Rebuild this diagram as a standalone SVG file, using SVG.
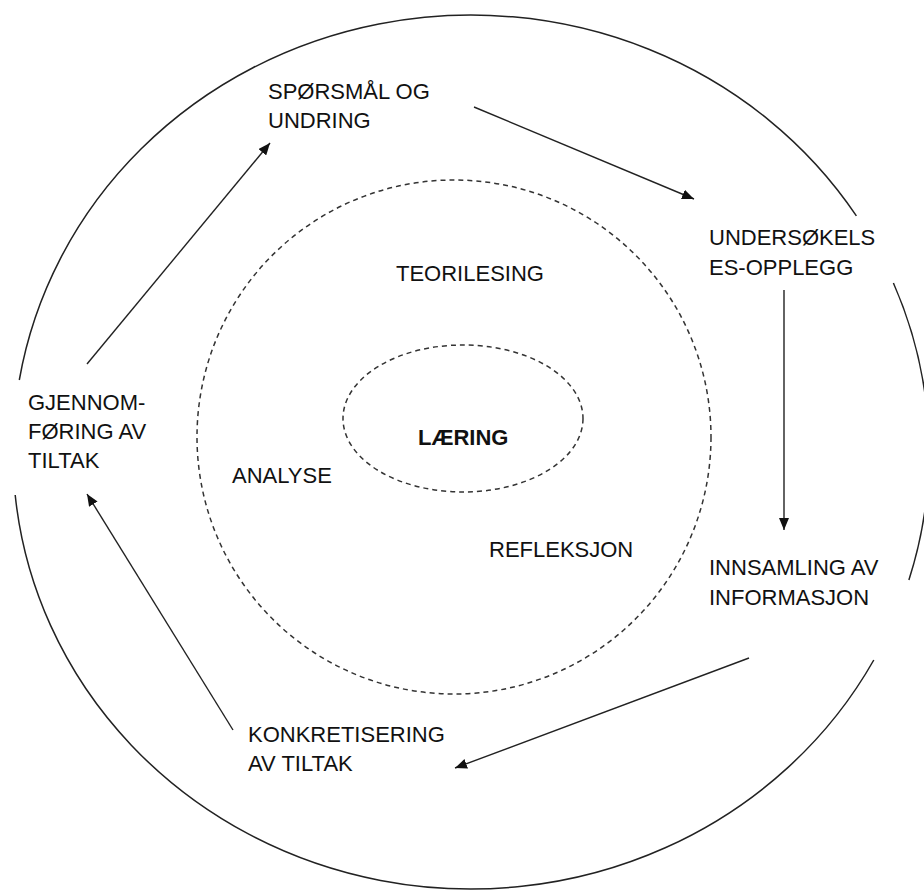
<svg xmlns="http://www.w3.org/2000/svg" width="924" height="890" viewBox="0 0 924 890">
<style>
.t{font-family:"Liberation Sans",Arial,sans-serif;font-size:22px;fill:#111}
.b{font-weight:bold}
.outer{fill:none;stroke:#222;stroke-width:1.5}
.dash{fill:none;stroke:#333;stroke-width:1.5;stroke-dasharray:5 4}
.conn{fill:none;stroke:#222;stroke-width:1.4;marker-end:url(#ah)}
</style>
<defs>
<marker id="ah" viewBox="0 0 12 10" refX="12" refY="5" markerWidth="12" markerHeight="10" markerUnits="userSpaceOnUse" orient="auto">
<path d="M0,0 L12,5 L0,10 z" fill="#111"/>
</marker>
</defs>
<rect width="924" height="890" fill="#fff"/>
<g id="outer-ring">
<path class="outer" d="M893.4 283 A458 437 0 0 1 908.9 580"/>
<path class="outer" d="M873.8 660 A458 437 0 0 1 15.2 495"/>
<path class="outer" d="M19.3 380 A458 437 0 0 1 856.4 215.9"/>
</g>
<g id="middle-ring">
<circle class="dash" cx="454" cy="437" r="257"/>
</g>
<g id="laering">
<ellipse class="dash" cx="463" cy="418.5" rx="120" ry="73.5"/>
<text class="t b" x="418" y="445">LÆRING</text>
</g>
<g id="teorilesing"><text class="t" x="396" y="281">TEORILESING</text></g>
<g id="analyse"><text class="t" x="232" y="483">ANALYSE</text></g>
<g id="refleksjon"><text class="t" x="489" y="557">REFLEKSJON</text></g>
<g id="sporsmal"><text class="t" x="268" y="99">SPØRSMÅL OG</text><text class="t" x="268" y="128">UNDRING</text></g>
<g id="undersokelses"><text class="t" x="709" y="245">UNDERSØKELS</text><text class="t" x="709" y="275">ES-OPPLEGG</text></g>
<g id="innsamling"><text class="t" x="709" y="575">INNSAMLING AV</text><text class="t" x="709" y="605">INFORMASJON</text></g>
<g id="konkretisering"><text class="t" x="248" y="742">KONKRETISERING</text><text class="t" x="248" y="771">AV TILTAK</text></g>
<g id="gjennomforing"><text class="t" x="28" y="410">GJENNOM-</text><text class="t" x="28" y="439">FØRING AV</text><text class="t" x="28" y="468">TILTAK</text></g>
<g id="connectors">
<line class="conn" x1="87" y1="364" x2="270" y2="143"/>
<line class="conn" x1="474" y1="107" x2="694" y2="199"/>
<line class="conn" x1="784" y1="290" x2="784" y2="530"/>
<line class="conn" x1="749" y1="658" x2="455" y2="768"/>
<line class="conn" x1="233" y1="730" x2="87" y2="494"/>
</g>
</svg>
